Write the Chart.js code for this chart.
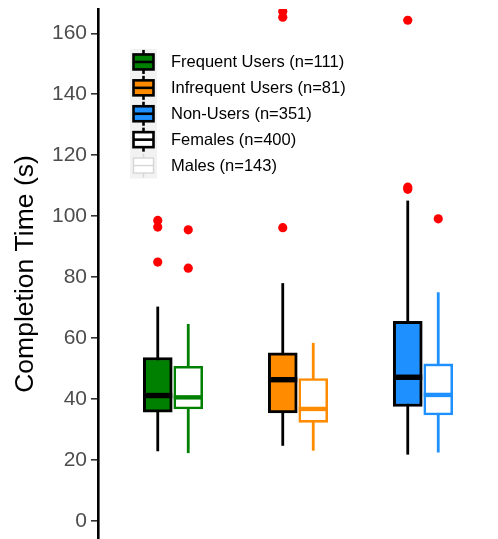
<!DOCTYPE html>
<html>
<head>
<meta charset="utf-8">
<script src="https://cdn.jsdelivr.net/npm/chart.js@4.4.1/dist/chart.umd.min.js"></script>
<style>
  html, body { margin: 0; padding: 0; background: #ffffff; }
  #wrap { width: 498px; height: 539px; }
</style>
</head>
<body>
<div id="wrap"><canvas id="c" width="498" height="539"></canvas></div>
<script>
// Groups along the x axis (positions 1, 2, 3)
const groups = ['Frequent Users', 'Infrequent Users', 'Non-Users'];
const groupColors = ['#008000', '#ff8c00', '#1e90ff'];
const groupCounts = [111, 81, 351];

// Five-number summaries per group: [lower whisker, Q1, median, Q3, upper whisker]
const femaleStats = [
  [22.8, 35.6, 41.1, 53.6, 70.3],
  [24.6, 35.4, 46.3, 55.1, 78.0],
  [21.7, 37.5, 47.1, 65.5, 105.1]
];
const maleStats = [
  [22.2, 36.7, 40.5, 50.7, 64.6],
  [23.0, 32.3, 36.7, 46.7, 58.4],
  [22.4, 34.7, 41.3, 51.5, 75.0]
];

// Outlying completion times per group
const femaleOutliers = [
  [98.6, 96.4, 84.9],
  [167.2, 165.3, 96.2],
  [164.3, 109.5, 108.8]
];
const maleOutliers = [
  [95.5, 82.9],
  [],
  [99.1]
];

const sexCounts = { Females: 400, Males: 143 };
const yTicks = [0, 20, 40, 60, 80, 100, 120, 140, 160];

const DODGE = 0.122;
const BOX_PX = 29;

const femaleBoxes = femaleStats.map((s, i) => ({ x: i + 1 - DODGE, y: [s[1], s[3]] }));
const maleBoxes = maleStats.map((s, i) => ({ x: i + 1 + DODGE, y: [s[1], s[3]] }));

const outlierPoints = [];
femaleOutliers.forEach((arr, i) => arr.forEach(v => outlierPoints.push({ x: i + 1 - DODGE, y: v })));
maleOutliers.forEach((arr, i) => arr.forEach(v => outlierPoints.push({ x: i + 1 + DODGE, y: v })));

function clipToArea(ctx, a) {
  ctx.beginPath();
  ctx.rect(a.left, a.top, a.right - a.left, a.bottom - a.top);
  ctx.clip();
}

// Whiskers behind the boxes, medians on top of them
const boxExtras = {
  id: 'boxExtras',
  beforeDatasetsDraw(chart) {
    const { ctx, chartArea, scales: { x, y } } = chart;
    ctx.save();
    clipToArea(ctx, chartArea);
    ctx.lineCap = 'butt';
    const drawWhisker = (stats, off, color) => {
      stats.forEach((s, i) => {
        const px = x.getPixelForValue(i + 1 + off);
        ctx.strokeStyle = color(i);
        ctx.lineWidth = 2.8;
        ctx.beginPath();
        ctx.moveTo(px, y.getPixelForValue(s[0]));
        ctx.lineTo(px, y.getPixelForValue(s[4]));
        ctx.stroke();
      });
    };
    drawWhisker(femaleStats, -DODGE, () => '#000000');
    drawWhisker(maleStats, DODGE, i => groupColors[i]);
    ctx.restore();
  },
  afterDatasetsDraw(chart) {
    const { ctx, chartArea, scales: { x, y } } = chart;
    const half = BOX_PX / 2;
    ctx.save();
    clipToArea(ctx, chartArea);
    femaleStats.forEach((s, i) => {
      const px = x.getPixelForValue(i + 1 - DODGE);
      const py = y.getPixelForValue(s[2]);
      ctx.fillStyle = '#000000';
      ctx.fillRect(px - half, py - 2.7, half * 2, 5.4);
    });
    maleStats.forEach((s, i) => {
      const px = x.getPixelForValue(i + 1 + DODGE);
      const py = y.getPixelForValue(s[2]);
      ctx.fillStyle = groupColors[i];
      ctx.fillRect(px - half, py - 2.2, half * 2, 4.4);
    });
    ctx.restore();
  }
};

// Legend with box-plot keys
const boxLegend = {
  id: 'boxLegend',
  afterDraw(chart) {
    const { ctx } = chart;
    const entries = [
      { label: `${groups[0]} (n=${groupCounts[0]})`, fill: groupColors[0], stroke: '#000000', lw: 2.6 },
      { label: `${groups[1]} (n=${groupCounts[1]})`, fill: groupColors[1], stroke: '#000000', lw: 2.6 },
      { label: `${groups[2]} (n=${groupCounts[2]})`, fill: groupColors[2], stroke: '#000000', lw: 2.6 },
      { label: `Females (n=${sexCounts.Females})`, fill: '#ffffff', stroke: '#000000', lw: 2.6 },
      { label: `Males (n=${sexCounts.Males})`, fill: '#ffffff', stroke: '#d6d6d6', lw: 1.4 }
    ];
    const x0 = 130, kw = 27, y0 = 49, kh = 25.9;
    ctx.save();
    ctx.fillStyle = '#f2f2f2';
    ctx.fillRect(x0, y0, kw, kh * entries.length);
    entries.forEach((e, i) => {
      const cy = y0 + kh * i + kh / 2;
      const cx = x0 + kw / 2;
      ctx.strokeStyle = e.stroke;
      ctx.lineWidth = e.lw;
      ctx.beginPath();
      ctx.moveTo(cx, cy - 12);
      ctx.lineTo(cx, cy + 12);
      ctx.stroke();
      ctx.fillStyle = e.fill;
      ctx.fillRect(cx - 10, cy - 7.5, 20, 15);
      ctx.strokeRect(cx - 10, cy - 7.5, 20, 15);
      ctx.beginPath();
      ctx.moveTo(cx - 10, cy);
      ctx.lineTo(cx + 10, cy);
      ctx.stroke();
      ctx.fillStyle = '#000000';
      ctx.font = '16.5px "Liberation Sans", Arial, sans-serif';
      ctx.textBaseline = 'middle';
      ctx.textAlign = 'left';
      ctx.fillText(e.label, 171, cy + 1);
    });
    ctx.restore();
  }
};

new Chart(document.getElementById('c'), {
  data: {
    datasets: [
      {
        type: 'bar',
        label: 'Females',
        data: femaleBoxes,
        backgroundColor: groupColors,
        borderColor: '#000000',
        borderWidth: 3,
        borderSkipped: false,
        barThickness: BOX_PX,
        grouped: false,
        order: 2
      },
      {
        type: 'bar',
        label: 'Males',
        data: maleBoxes,
        backgroundColor: '#ffffff',
        borderColor: groupColors,
        borderWidth: 2.6,
        borderSkipped: false,
        barThickness: BOX_PX,
        grouped: false,
        order: 2
      },
      {
        type: 'scatter',
        label: 'Outliers',
        data: outlierPoints,
        pointRadius: 4.6,
        pointBackgroundColor: '#ff0000',
        pointBorderWidth: 0,
        clip: 0,
        order: 1
      }
    ]
  },
  options: {
    responsive: false,
    animation: false,
    events: [],
    layout: { autoPadding: false, padding: { top: 9, right: 0, bottom: 0, left: 0 } },
    plugins: { legend: { display: false }, tooltip: { enabled: false } },
    scales: {
      x: {
        type: 'linear',
        min: 0.4,
        max: 3.6,
        offset: false,
        display: false
      },
      y: {
        type: 'linear',
        min: -6.0,
        max: 168.0,
        afterBuildTicks(scale) {
          scale.ticks = yTicks.map(v => ({ value: v }));
        },
        afterFit(scale) {
          scale.width = 98;
          scale.paddingTop = 0;
          scale.paddingBottom = 0;
        },
        border: { display: true, color: '#000000', width: 2.6 },
        grid: { drawOnChartArea: false, drawTicks: true, tickLength: 7, color: '#333333', lineWidth: 1.6 },
        ticks: {
          color: '#4d4d4d',
          padding: 4,
          font: { family: '"Liberation Sans", Arial, sans-serif', size: 21 }
        },
        title: {
          display: true,
          text: 'Completion Time (s)',
          color: '#000000',
          padding: { top: 10, bottom: 0 },
          font: { family: '"Liberation Sans", Arial, sans-serif', size: 26.5 }
        }
      }
    }
  },
  plugins: [boxExtras, boxLegend]
});
</script>
</body>
</html>
